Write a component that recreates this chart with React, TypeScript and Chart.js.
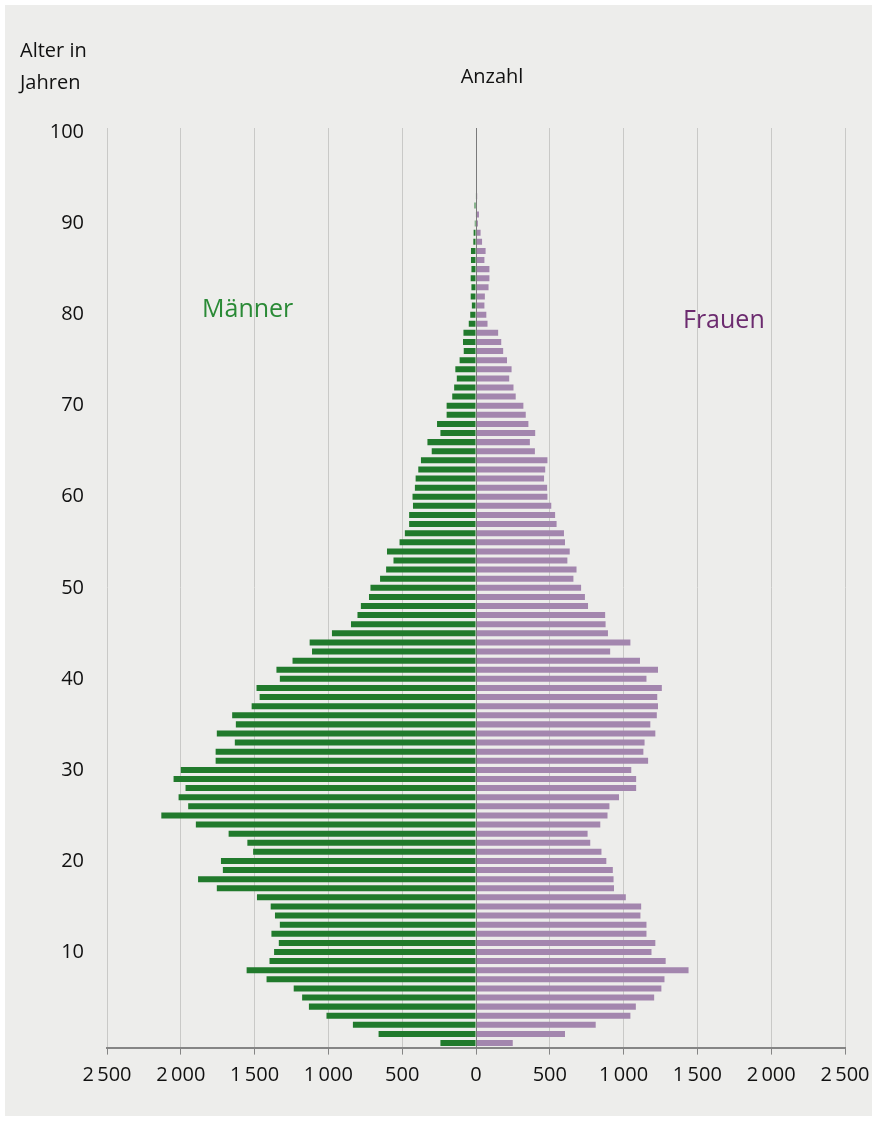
import React, { useEffect, useRef } from 'react';
import { Chart, registerables } from 'chart.js';

Chart.register(...registerables);

const ages = [
  '0', '1', '2', '3', '4', '5', '6', '7', '8', '9',
  '10', '11', '12', '13', '14', '15', '16', '17', '18', '19',
  '20', '21', '22', '23', '24', '25', '26', '27', '28', '29',
  '30', '31', '32', '33', '34', '35', '36', '37', '38', '39',
  '40', '41', '42', '43', '44', '45', '46', '47', '48', '49',
  '50', '51', '52', '53', '54', '55', '56', '57', '58', '59',
  '60', '61', '62', '63', '64', '65', '66', '67', '68', '69',
  '70', '71', '72', '73', '74', '75', '76', '77', '78', '79',
  '80', '81', '82', '83', '84', '85', '86', '87', '88', '89',
  '90', '91', '92', '93', '94', '95', '96', '97', '98', '99',
  '100',
];

const men = [
  241, 660, 834, 1013, 1132, 1178, 1235, 1419, 1554, 1399,
  1368, 1336, 1386, 1329, 1362, 1391, 1484, 1756, 1883, 1715,
  1728, 1510, 1549, 1676, 1898, 2132, 1950, 2015, 1968, 2049,
  2000, 1764, 1764, 1634, 1756, 1627, 1652, 1520, 1466, 1487,
  1329, 1352, 1243, 1111, 1127, 976, 847, 803, 780, 725,
  715, 650, 609, 559, 603, 518, 482, 453, 453, 427,
  430, 414, 409, 391, 373, 300, 329, 241, 264, 199,
  199, 161, 148, 130, 140, 111, 83, 88, 85, 49,
  39, 28, 36, 31, 36, 31, 34, 34, 18, 16,
  8, 3, 10, 3, 0, 0, 0, 0, 0, 0,
  0,
];

const women = [
  249, 603, 811, 1046, 1083, 1207, 1256, 1277, 1440, 1285,
  1189, 1215, 1155, 1155, 1114, 1119, 1015, 935, 932, 927,
  883, 850, 774, 756, 842, 891, 904, 969, 1085, 1085,
  1052, 1166, 1134, 1142, 1215, 1181, 1225, 1233, 1228, 1259,
  1155, 1233, 1111, 909, 1046, 894, 878, 875, 759, 738,
  712, 660, 681, 619, 635, 603, 596, 546, 536, 510,
  484, 482, 461, 469, 484, 399, 365, 401, 355, 337,
  321, 269, 254, 225, 241, 210, 184, 171, 150, 78,
  70, 57, 60, 85, 91, 91, 57, 65, 41, 31,
  13, 20, 5, 8, 5, 5, 5, 5, 0, 3,
  0,
];

const xTicks = [-2500, -2000, -1500, -1000, -500, 0, 500, 1000, 1500, 2000, 2500];

const GREEN = '#217a2c';
const PURPLE = '#a386ae';
const FONT = '"Open Sans", "Noto Sans", sans-serif';

function fmt(v: number): string {
  const a = Math.abs(v);
  if (a >= 1000) {
    const th = Math.floor(a / 1000);
    const rest = a % 1000;
    return th + '\u2009' + String(rest).padStart(3, '0');
  }
  return String(a);
}

const zeroLine = {
  id: 'zeroLine',
  afterDatasetsDraw(chart: any) {
    const { ctx, chartArea, scales } = chart;
    const x = Math.round(scales.x.getPixelForValue(0)) + 0.5;
    ctx.save();
    ctx.strokeStyle = '#7a7a7a';
    ctx.lineWidth = 1;
    ctx.beginPath();
    ctx.moveTo(x, chartArea.top);
    ctx.lineTo(x, chartArea.bottom);
    ctx.stroke();
    ctx.restore();
  },
};

export default function App() {
  const ref = useRef<HTMLCanvasElement | null>(null);

  useEffect(() => {
    document.body.style.margin = '0';
    const canvas = ref.current;
    if (!canvas) return;
    const chart = new Chart(canvas, {
      type: 'bar',
      data: {
        labels: ages,
        datasets: [
          {
            label: 'Männer',
            data: men.map((v) => -v),
            backgroundColor: GREEN,
            borderWidth: 0,
            barPercentage: 0.66,
            categoryPercentage: 1,
          },
          {
            label: 'Frauen',
            data: women,
            backgroundColor: PURPLE,
            borderWidth: 0,
            barPercentage: 0.66,
            categoryPercentage: 1,
          },
        ],
      },
      options: {
        indexAxis: 'y',
        responsive: false,
        animation: false,
        layout: { padding: { left: 0, right: 27, top: 123, bottom: 8.4 } },
        plugins: {
          legend: { display: false },
          tooltip: { enabled: false },
          title: { display: false },
        },
        scales: {
          x: {
            type: 'linear',
            stacked: true,
            min: -2500,
            max: 2500,
            afterBuildTicks: (scale: any) => {
              scale.ticks = xTicks.map((v) => ({ value: v }));
            },
            afterFit: (scale: any) => {
              scale.height = 60;
              scale.paddingLeft = 0;
              scale.paddingRight = 0;
            },
            grid: {
              color: '#c9c9c7',
              lineWidth: 1,
              drawTicks: true,
              tickLength: 7,
              tickColor: '#858585',
            },
            border: { display: true, color: '#858585', width: 2 },
            ticks: {
              callback: (v: any) => fmt(Number(v)),
              color: '#111',
              font: { family: FONT, size: 20 },
              padding: 9,
              maxRotation: 0,
              autoSkip: false,
            },
          },
          y: {
            type: 'category',
            stacked: true,
            reverse: true,
            afterFit: (scale: any) => {
              scale.width = 102;
              scale.paddingTop = 0;
              scale.paddingBottom = 0;
            },
            grid: { display: false, drawTicks: false },
            border: { display: false },
            ticks: {
              autoSkip: false,
              padding: 23,
              color: '#111',
              font: { family: FONT, size: 20 },
              callback: (_v: any, i: number) => {
                const a = Number(ages[i]);
                return a % 10 === 0 && a > 0 ? String(a) : '';
              },
            },
          },
        },
      },
      plugins: [zeroLine],
    });
    return () => chart.destroy();
  }, []);

  const textBase: React.CSSProperties = {
    position: 'absolute',
    fontFamily: FONT,
    whiteSpace: 'nowrap',
  };

  return (
    <div style={{ position: 'absolute', left: 0, top: 0, width: 877, height: 1121, background: '#ffffff' }}>
      <div style={{ position: 'absolute', left: 5, top: 5, width: 867, height: 1111, background: '#ededeb' }}>
        <canvas ref={ref} width={867} height={1111} style={{ display: 'block', width: 867, height: 1111 }} />
      </div>
      <div style={{ ...textBase, left: 20, top: 34, fontSize: 20, lineHeight: '32px', color: '#111' }}>
        Alter in
        <br />
        Jahren
      </div>
      <div style={{ ...textBase, left: 392, width: 200, textAlign: 'center', top: 60, fontSize: 20, lineHeight: '32px', color: '#111' }}>
        Anzahl
      </div>
      <div style={{ ...textBase, left: 202, top: 291, fontSize: 25, lineHeight: '32px', color: '#2a8a36' }}>
        Männer
      </div>
      <div style={{ ...textBase, left: 683, top: 302, fontSize: 25, lineHeight: '32px', color: '#6c2b6f' }}>
        Frauen
      </div>
    </div>
  );
}
